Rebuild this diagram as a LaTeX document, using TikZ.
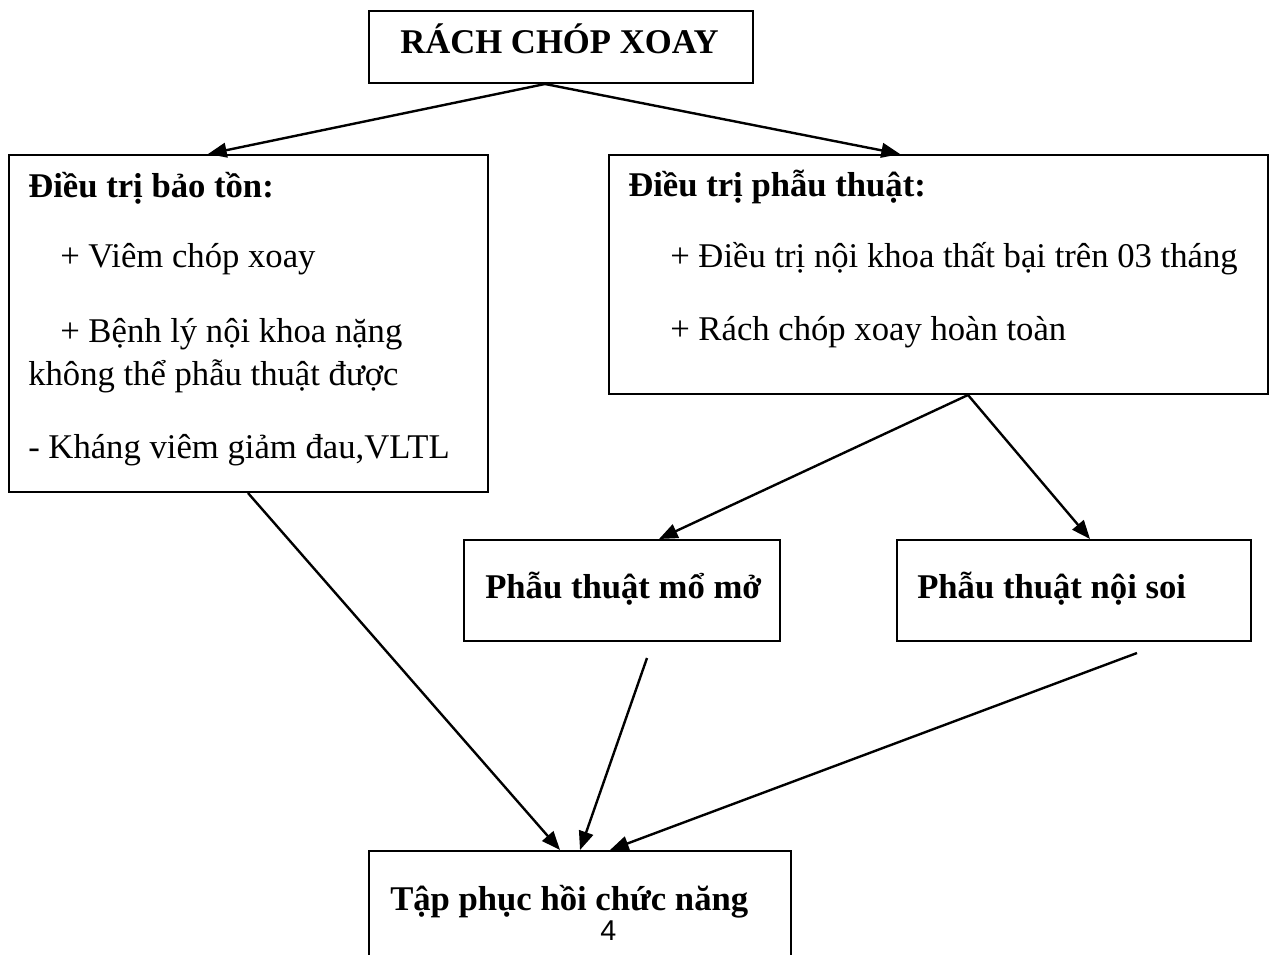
\documentclass[tikz,border=0pt]{standalone}
\usepackage{fontspec}
\setmainfont{Liberation Serif}
\newfontfamily\digitfont{Liberation Sans}
\usetikzlibrary{arrows.meta,calc}
\begin{document}
\begin{tikzpicture}[x=0.75pt,y=-0.75pt,
  box/.style={draw,line width=1.5pt,rectangle,inner sep=0pt,anchor=north west},
  txt/.style={anchor=base west,inner sep=0pt,font=\fontsize{26}{30}\selectfont},
  btxt/.style={anchor=base west,inner sep=0pt,font=\fontsize{26}{30}\selectfont\bfseries},
  arr/.style={line width=1.8pt,-{Triangle[length=14pt,width=11pt]}}]
\useasboundingbox (0,0) rectangle (1269,955);
\clip (0,0) rectangle (1269,955);
\fill[white] (0,0) rectangle (1269,955);
% boxes
\node[box,minimum width=288pt,minimum height=54pt] (top) at (368,10) {};
\node[box,minimum width=359.25pt,minimum height=252.75pt] (left) at (8,154) {};
\node[box,minimum width=494.25pt,minimum height=179.25pt] (right) at (608,154) {};
\node[box,minimum width=237pt,minimum height=76pt] (mo) at (463,539) {};
\node[box,minimum width=265.5pt,minimum height=76pt] (soi) at (896,539) {};
\node[box,minimum width=316.5pt,minimum height=112.5pt] (tap) at (368,850) {};
% texts
\node[btxt] (t0) at (400,54) {RÁCH CHÓP XOAY};
\node[btxt] (l0) at (28,198) {Điều trị bảo tồn:};
\node[txt] (l1) at (60,268) {+ Viêm chóp xoay};
\node[txt] (l2) at (60,342) {+ Bệnh lý nội khoa nặng};
\node[txt] (l3) at (28,385) {không thể phẫu thuật được};
\node[txt] (l4) at (28,458) {- Kháng viêm giảm đau,VLTL};
\node[btxt] (r0) at (628,197) {Điều trị phẫu thuật:};
\node[txt] (r1) at (670,268) {+ Điều trị nội khoa thất bại trên 03 tháng};
\node[txt] (r2) at (670,340) {+ Rách chóp xoay hoàn toàn};
\node[btxt] (m0) at (485,598) {Phẫu thuật mổ mở};
\node[btxt] (s0) at (917,598) {Phẫu thuật nội soi};
\node[btxt] (p0) at (390,910) {Tập phục hồi chức năng};
\node[anchor=base west,inner sep=0pt,font=\digitfont\fontsize{21.5}{24}\selectfont] (pg) at (600,940) {4};
% connectors
\coordinate (o1) at ($(top.south west)+(177,0)$);
\coordinate (o2) at ($(right.south west)+(360,0)$);
\coordinate (s6) at (647,658);
\coordinate (s7) at (1137,653);
\draw[arr] (o1) -- ($(left.north west)+(200,0)$);
\draw[arr] (o1) -- ($(right.north west)+(292,0)$);
\draw[arr] (o2) -- ($(mo.north west)+(196,0)$);
\draw[arr] (o2) -- ($(soi.north west)+(194,0)$);
\draw[arr] ($(left.south west)+(240,0)$) -- ($(tap.north west)+(192,0)$);
\draw[arr] (s6) -- ($(tap.north west)+(212,0)$);
\draw[arr] (s7) -- ($(tap.north west)+(242,0)$);
\end{tikzpicture}
\end{document}
